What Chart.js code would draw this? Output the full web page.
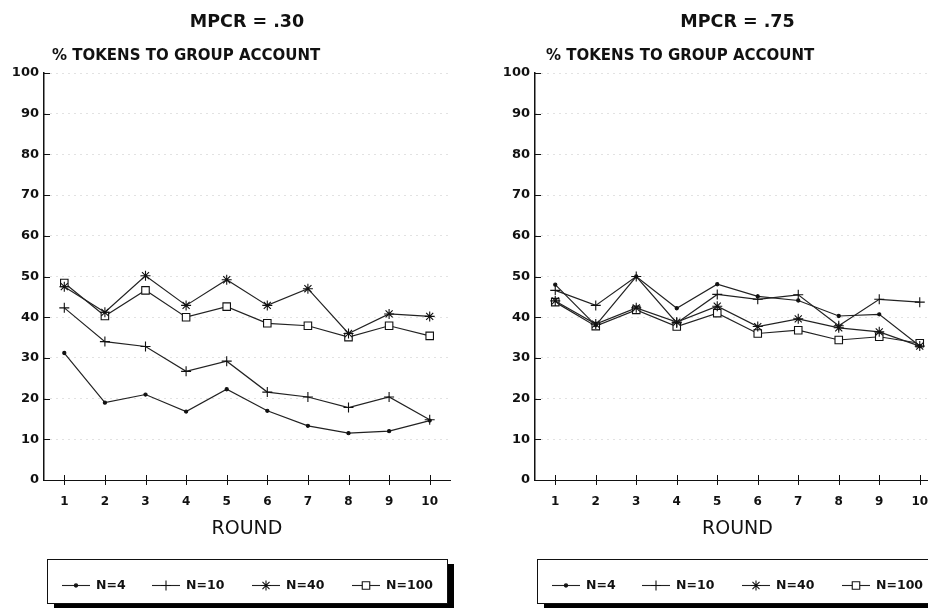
<!DOCTYPE html>
<html>
<head>
<meta charset="utf-8">
<script src="https://cdn.jsdelivr.net/npm/chart.js"></script>
<style>
  html, body { margin: 0; padding: 0; background: #fff; overflow: hidden; }
  #page { position: relative; width: 928px; height: 608px; overflow: hidden; }
  canvas { position: absolute; top: 0; }
</style>
</head>
<body>
<div id="page">
  <canvas id="chart30" width="464" height="608" style="left:0px"></canvas>
  <canvas id="chart75" width="500" height="608" style="left:464px"></canvas>
</div>
<script>
// chart data
const rounds = [1, 2, 3, 4, 5, 6, 7, 8, 9, 10];
const seriesLabels = ['N=4', 'N=10', 'N=40', 'N=100'];
const panelTitles = ['MPCR = .30', 'MPCR = .75'];
const yTitle = '% TOKENS TO GROUP ACCOUNT';
const xTitle = 'ROUND';

// MPCR = .30
const n4_30 = [31.2, 19.0, 21.0, 16.8, 22.3, 17.0, 13.3, 11.5, 12.0, 14.6];
const n10_30 = [42.3, 34.0, 32.8, 26.7, 29.2, 21.6, 20.4, 17.8, 20.4, 14.8];
const n40_30 = [47.5, 41.2, 50.2, 42.9, 49.2, 42.9, 47.0, 36.0, 40.8, 40.2];
const n100_30 = [48.4, 40.3, 46.6, 40.0, 42.6, 38.5, 37.9, 35.1, 37.9, 35.4];

// MPCR = .75
const n4_75 = [48.0, 38.0, 50.0, 42.2, 48.1, 45.1, 44.1, 40.3, 40.7, 32.9];
const n10_75 = [46.6, 42.9, 50.0, 38.6, 45.6, 44.4, 45.5, 37.9, 44.4, 43.7];
const n40_75 = [44.0, 38.3, 42.3, 38.8, 42.7, 37.7, 39.6, 37.4, 36.4, 32.9];
const n100_75 = [43.7, 37.8, 41.8, 37.7, 41.0, 36.0, 36.8, 34.4, 35.2, 33.6];

const FONT = '"DejaVu Sans", "Liberation Sans", Arial, sans-serif';
Chart.defaults.font.family = FONT;
Chart.defaults.color = '#111';

// marker look for each series (same order as seriesLabels)
const markerStyles = [
  { pointStyle: 'circle', radius: 1.6, fill: '#111' },
  { pointStyle: 'cross', radius: 5, fill: '#111' },
  { pointStyle: 'star', radius: 5, fill: '#111' },
  { pointStyle: 'rect', radius: 5.3, fill: '#fff' }
];

function drawMarker(ctx, m, x, y) {
  ctx.save();
  ctx.fillStyle = m.fill;
  ctx.strokeStyle = '#111';
  ctx.lineWidth = 1.1;
  Chart.helpers.drawPoint(ctx, { pointStyle: m.pointStyle, radius: m.radius, borderWidth: 1.1, rotation: 0 }, x, y);
  ctx.restore();
}

// titles, tick marks and the boxed legend drawn around the plot
const panelDecor = {
  id: 'panelDecor',
  afterDraw(chart, args, opts) {
    const ctx = chart.ctx;
    const area = chart.chartArea;
    const xs = chart.scales.x;
    const ys = chart.scales.y;
    const cx = (area.left + area.right) / 2;

    ctx.save();
    ctx.strokeStyle = '#111';
    ctx.lineWidth = 1;
    ctx.beginPath();
    xs.ticks.forEach(t => {
      const px = Math.round(xs.getPixelForValue(t.value)) + 0.5;
      ctx.moveTo(px, area.bottom - 5);
      ctx.lineTo(px, area.bottom + 5);
    });
    ys.ticks.forEach(t => {
      const py = Math.round(ys.getPixelForValue(t.value)) + 0.5;
      ctx.moveTo(area.left, py);
      ctx.lineTo(area.left + 6, py);
    });
    ctx.stroke();

    ctx.fillStyle = '#111';
    ctx.textAlign = 'center';
    ctx.textBaseline = 'middle';
    ctx.font = 'bold 17.5px ' + FONT;
    ctx.fillText(opts.title, cx, 22);
    ctx.font = 'normal 19px ' + FONT;
    ctx.fillText(xTitle, cx, 529);
    ctx.textAlign = 'left';
    ctx.font = 'bold 15px ' + FONT;
    ctx.fillText(yTitle, area.left + opts.subtitleDx, 56.5);

    // legend box with drop shadow
    const bx = area.left + opts.legendDx;
    const by = 559, bw = 400, bh = 44;
    ctx.fillStyle = '#000';
    ctx.fillRect(bx + 7, by + 5, bw, bh);
    ctx.fillStyle = '#fff';
    ctx.fillRect(bx, by, bw, bh);
    ctx.strokeStyle = '#111';
    ctx.strokeRect(bx + 0.5, by + 0.5, bw, bh);

    const itemDx = [15, 105, 205, 305];
    const ly = 585.5;
    ctx.font = 'bold 12.5px ' + FONT;
    ctx.textBaseline = 'middle';
    chart.data.datasets.forEach((ds, i) => {
      const lx = bx + itemDx[i];
      ctx.strokeStyle = '#222';
      ctx.lineWidth = 1.1;
      ctx.beginPath();
      ctx.moveTo(lx, ly);
      ctx.lineTo(lx + 28, ly);
      ctx.stroke();
      drawMarker(ctx, markerStyles[i], lx + 14, ly);
      ctx.fillStyle = '#111';
      ctx.fillText(ds.label, lx + 34, ly);
    });
    ctx.restore();
  }
};

function makePanel(canvasId, title, series, layout) {
  const datasets = series.map((values, i) => ({
    label: seriesLabels[i],
    data: rounds.map((r, j) => ({ x: r, y: values[j] })),
    borderColor: '#222',
    borderWidth: 1.2,
    pointStyle: markerStyles[i].pointStyle,
    pointRadius: markerStyles[i].radius,
    pointBackgroundColor: markerStyles[i].fill,
    pointBorderColor: '#111',
    pointBorderWidth: 1.1,
    tension: 0,
    fill: false
  }));

  return new Chart(document.getElementById(canvasId), {
    type: 'line',
    data: { datasets: datasets },
    plugins: [panelDecor],
    options: {
      responsive: false,
      animation: false,
      devicePixelRatio: 1,
      layout: { padding: { top: 73, right: layout.padRight, bottom: 0, left: 0 } },
      plugins: {
        legend: { display: false },
        title: { display: false },
        tooltip: { enabled: false },
        panelDecor: { title: title, subtitleDx: layout.subtitleDx, legendDx: layout.legendDx }
      },
      scales: {
        x: {
          type: 'linear',
          min: 0.5,
          max: 10.5,
          afterBuildTicks: s => { s.ticks = rounds.map(v => ({ value: v })); },
          afterFit: s => { s.height = 128; },
          grid: { display: false, drawTicks: false },
          border: { display: true, color: '#111', width: 1 },
          ticks: { padding: 15, maxRotation: 0, autoSkip: false, font: { size: 12, weight: 'bold' }, color: '#111' }
        },
        y: {
          min: 0,
          max: 100,
          afterFit: s => { s.width = layout.yAxisWidth; },
          grid: { color: '#c4c4c4', lineWidth: 1, drawTicks: false },
          border: { display: true, color: '#111', width: 1.5, dash: [1, 5] },
          ticks: { stepSize: 10, padding: 5, font: { size: 13, weight: 'bold' }, color: '#111' }
        }
      }
    }
  });
}

makePanel('chart30', panelTitles[0], [n4_30, n10_30, n40_30, n100_30],
  { yAxisWidth: 44, padRight: 14, subtitleDx: 8, legendDx: 3 });
makePanel('chart75', panelTitles[1], [n4_75, n10_75, n40_75, n100_75],
  { yAxisWidth: 71, padRight: 24, subtitleDx: 11, legendDx: 2 });
</script>
</body>
</html>
